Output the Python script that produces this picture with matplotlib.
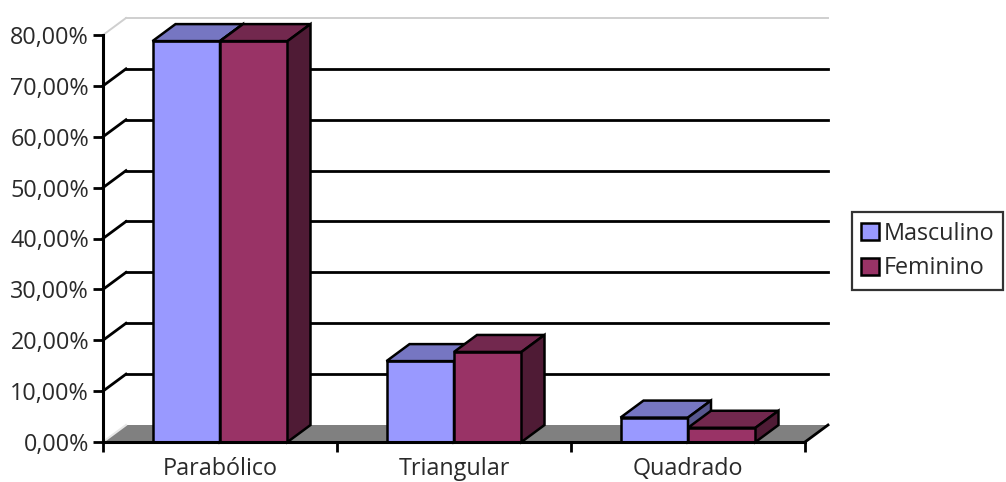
import matplotlib.pyplot as plt
from matplotlib.patches import Polygon, Rectangle, Patch

categories = ['Parabólico', 'Triangular', 'Quadrado']
series = ['Masculino', 'Feminino']
masculino = [78.8, 15.9, 4.8]
feminino = [78.8, 17.7, 2.8]
y_ticks = [0, 10, 20, 30, 40, 50, 60, 70, 80]
y_labels = [f'{v:.2f}%'.replace('.', ',') for v in y_ticks]

front_col = {'Masculino': '#9999FF', 'Feminino': '#993366'}
top_col = {'Masculino': '#7676C2', 'Feminino': '#72284E'}
side_col = {'Masculino': '#57578F', 'Feminino': '#4F1B35'}

plt.rcParams['font.family'] = ['Open Sans', 'DejaVu Sans']
FS = 16.8
TXT = '#2a2a2a'

W, H = 1006, 482
fig = plt.figure(figsize=(W / 100, H / 100), dpi=100)
ax = fig.add_axes([103 / W, 40 / H, 702 / W, 407 / H])
ax.set_xlim(0, 3)
ax.set_ylim(0, 80)

# depth of the 3D box, pixels -> data units
dx = 23 / (702 / 3)
dy = 17 / (407 / 80)

# floor
ax.add_patch(Polygon([(0, 0), (3, 0), (3 + dx, dy), (dx, dy)], closed=True,
                     facecolor='#808080', edgecolor='none', zorder=1, clip_on=False))
ax.plot([0, dx], [0, dy], color='#e8e8e8', lw=1.5, zorder=1.5, clip_on=False)
ax.plot([3, 3 + dx], [0, dy], color='black', lw=2, zorder=1.5, clip_on=False)

# gridlines on the side and back walls
for v in y_ticks[1:]:
    c = '#cfcfcf' if v == 80 else 'black'
    lw = 1.4 if v == 80 else 2
    ax.plot([0, dx], [v, v + dy], color=c, lw=lw, zorder=1, clip_on=False)
    ax.plot([dx, 3 + dx], [v + dy, v + dy], color=c, lw=lw, zorder=1, clip_on=False)

# bars
bw = 67.5 / (702 / 3)
for i in range(len(categories)):
    for j, (name, vals) in enumerate(zip(series, [masculino, feminino])):
        v = vals[i]
        x0 = i + 0.5 + (j - 1) * bw
        kw = dict(edgecolor='black', lw=1.8, joinstyle='miter', zorder=3, clip_on=False)
        ax.add_patch(Rectangle((x0, 0), bw, v, facecolor=front_col[name], **kw))
        ax.add_patch(Polygon([(x0, v), (x0 + bw, v), (x0 + bw + dx, v + dy), (x0 + dx, v + dy)],
                             closed=True, facecolor=top_col[name], **kw))
        ax.add_patch(Polygon([(x0 + bw, 0), (x0 + bw + dx, dy), (x0 + bw + dx, v + dy), (x0 + bw, v)],
                             closed=True, facecolor=side_col[name], **kw))

# axes
for s in ['top', 'right']:
    ax.spines[s].set_visible(False)
for s in ['left', 'bottom']:
    ax.spines[s].set_linewidth(2.2)
    ax.spines[s].set_zorder(4)
ax.set_facecolor('none')
ax.set_yticks(y_ticks)
ax.set_yticklabels(y_labels, fontsize=FS, color=TXT)
ax.tick_params(axis='y', length=7, width=2, pad=3)
ax.set_xticks([0, 1, 2, 3])
ax.set_xticklabels([])
ax.tick_params(axis='x', which='major', length=7, width=2)
ax.set_xticks([0.5, 1.5, 2.5], minor=True)
ax.set_xticklabels(categories, minor=True, fontsize=FS, color=TXT)
ax.tick_params(axis='x', which='minor', length=0, pad=11)

handles = [Patch(facecolor=front_col[s], edgecolor='black', lw=1.8) for s in series]
leg = fig.legend(handles, series, loc='center left', bbox_to_anchor=(852 / W, 1 - 251 / H),
                 fontsize=FS, frameon=True, fancybox=False, edgecolor='black',
                 handlelength=0.75, handleheight=0.75, handletextpad=0.2,
                 borderpad=0.4, labelspacing=0.45, borderaxespad=0)
leg.get_frame().set_linewidth(1.6)
for t in leg.get_texts():
    t.set_color(TXT)

fig.savefig('out.png', dpi=100)
